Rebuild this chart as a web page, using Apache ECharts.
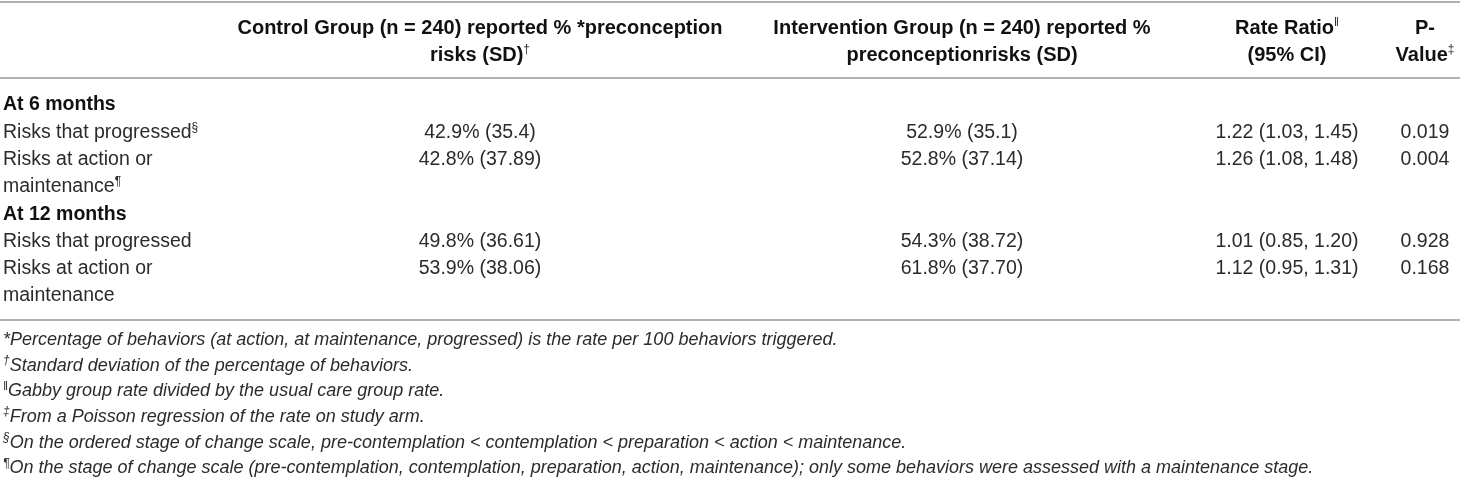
<!DOCTYPE html>
<html style="height: 100%">
<head>
<meta charset="utf-8">
</head>
<body style="height: 100%; margin: 0; background: #fff">
	<div id="container" style="width: 1460px; height: 481px"></div>
	<script type="text/javascript" src="https://cdn.jsdelivr.net/npm/echarts@6/dist/echarts.min.js"></script>
	<script type="text/javascript">
		// table content
		var headerTop = ['', 'Control Group (n = 240) reported % *preconception', 'Intervention Group (n = 240) reported %', 'Rate Ratio{s|‖}', 'P-'];
		var headerBottom = ['', 'risks (SD){s|†}', 'preconceptionrisks (SD)', '(95% CI)', 'Value{s|‡}'];
		var bodyLines = ['At 6 months', 'Risks that progressed{s|§}', 'Risks at action or', 'maintenance{s|¶}',
			'At 12 months', 'Risks that progressed', 'Risks at action or', 'maintenance'];
		var sectionLines = [0, 4];
		var dataLines = [1, 2, 5, 6];
		var controlPct = [42.9, 42.8, 49.8, 53.9];
		var controlSD = ['35.4', '37.89', '36.61', '38.06'];
		var interventionPct = [52.9, 52.8, 54.3, 61.8];
		var interventionSD = ['35.1', '37.14', '38.72', '37.70'];
		var rateRatio = [1.22, 1.26, 1.01, 1.12];
		var ciLow = [1.03, 1.08, 0.85, 0.95];
		var ciHigh = [1.45, 1.48, 1.20, 1.31];
		var pValues = [0.019, 0.004, 0.928, 0.168];
		var footnotes = [
			'*Percentage of behaviors (at action, at maintenance, progressed) is the rate per 100 behaviors triggered.',
			'{s|†}Standard deviation of the percentage of behaviors.',
			'{s|‖}Gabby group rate divided by the usual care group rate.',
			'{s|‡}From a Poisson regression of the rate on study arm.',
			'{s|§}On the ordered stage of change scale, pre-contemplation < contemplation < preparation < action < maintenance.',
			'{s|¶}On the stage of change scale (pre-contemplation, contemplation, preparation, action, maintenance); only some behaviors were assessed with a maintenance stage.'
		];

		// column anchors on the hidden x scale
		var colX = [3, 480, 962, 1287, 1425];
		var colAlign = ['left', 'center', 'center', 'center', 'center'];
		var FONT = '"Liberation Sans", Arial, sans-serif';

		var headerCells = [], bodyCells = [], footCells = [];
		for (var c = 1; c < 5; c++) {
			headerCells.push({ x: colX[c], row: 0, text: headerTop[c], align: 'center', bold: true });
			headerCells.push({ x: colX[c], row: 1, text: headerBottom[c], align: 'center', bold: true });
		}
		bodyLines.forEach(function (t, i) {
			bodyCells.push({ x: colX[0], row: i, text: t, align: 'left', bold: sectionLines.indexOf(i) >= 0 });
		});
		dataLines.forEach(function (line, i) {
			var vals = [
				controlPct[i].toFixed(1) + '% (' + controlSD[i] + ')',
				interventionPct[i].toFixed(1) + '% (' + interventionSD[i] + ')',
				rateRatio[i].toFixed(2) + ' (' + ciLow[i].toFixed(2) + ', ' + ciHigh[i].toFixed(2) + ')',
				pValues[i].toFixed(3)
			];
			vals.forEach(function (v, k) {
				bodyCells.push({ x: colX[k + 1], row: line, text: v, align: colAlign[k + 1], bold: false });
			});
		});
		footnotes.forEach(function (t, i) {
			footCells.push({ x: colX[0], row: i, text: t, align: 'left', italic: true });
		});

		function textSeries(xIdx, yIdx, cells) {
			return {
				type: 'custom',
				xAxisIndex: xIdx,
				yAxisIndex: yIdx,
				silent: true,
				clip: false,
				data: cells.map(function (c) { return [c.x, c.row]; }),
				renderItem: function (params, api) {
					var cell = cells[params.dataIndex];
					var p = api.coord([api.value(0), api.value(1)]);
					var size = cell.bold && xIdx < 2 ? 20 : (cell.italic ? 18 : 19.5);
					return {
						type: 'text',
						x: p[0],
						y: p[1],
						style: {
							text: cell.text,
							align: cell.align,
							verticalAlign: 'middle',
							fontFamily: FONT,
							fontSize: size,
							fontWeight: cell.bold ? 'bold' : 'normal',
							fontStyle: cell.italic ? 'italic' : 'normal',
							fill: cell.bold ? '#111' : '#2b2b2b',
							lineHeight: 22,
							rich: {
								s: { fontSize: 12, lineHeight: 12, verticalAlign: 'top', fontFamily: FONT,
									fontStyle: cell.italic ? 'italic' : 'normal', fill: '#2b2b2b' }
							}
						}
					};
				}
			};
		}

		function rule(grid, pos, off, color, width) {
			return {
				gridIndex: grid, type: 'value', min: 0, max: 1460, position: pos, offset: off,
				axisLine: { show: true, lineStyle: { color: color, width: width } },
				axisTick: { show: false }, axisLabel: { show: false }, splitLine: { show: false }
			};
		}

		function rows(n) {
			var a = [];
			for (var i = 0; i < n; i++) a.push('r' + i);
			return a;
		}

		var dom = document.getElementById('container');
		var myChart = echarts.init(dom);
		var option = {
			animation: false,
			grid: [
				{ left: 0, right: 0, top: 14.5, height: 54 },
				{ left: 0, right: 0, top: 91.4, height: 218.2 },
				{ left: 0, right: 0, top: 327, height: 156 }
			],
			xAxis: [
				rule(0, 'top', 13, '#b0b0b0', 2),
				rule(0, 'bottom', 9.5, '#999', 1.6),
				rule(1, 'bottom', 10, '#999', 1.6),
				{ gridIndex: 2, type: 'value', min: 0, max: 1460, show: false }
			],
			yAxis: [
				{ gridIndex: 0, type: 'category', data: rows(2), inverse: true, show: false },
				{ gridIndex: 1, type: 'category', data: rows(bodyLines.length), inverse: true, show: false },
				{ gridIndex: 2, type: 'category', data: rows(footnotes.length), inverse: true, show: false }
			],
			series: [
				textSeries(0, 0, headerCells),
				textSeries(2, 1, bodyCells),
				textSeries(3, 2, footCells)
			]
		};
		myChart.setOption(option, true);
	</script>
</body>
</html>
